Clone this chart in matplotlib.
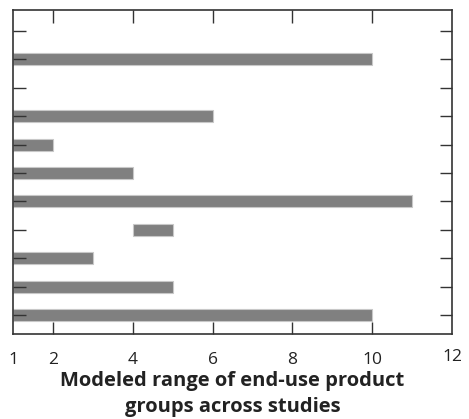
import matplotlib
matplotlib.use("Agg")
import matplotlib.pyplot as plt
import matplotlib.transforms as mtransforms

# Data: rows from bottom (0) to top (10); None = no bar
row_pos = [0, 1, 2, 3, 4, 5, 6, 7, 8, 9, 10]
range_start = [1, 1, 1, 4, 1, 1, 1, 1, None, 1, None]
range_end = [10, 5, 3, 5, 11, 4, 2, 6, None, 10, None]
x_ticks = [1, 2, 4, 6, 8, 10, 12]
x_tick_labels = ["1", "2", "4", "6", "8", "10", "12"]
x_label = "Modeled range of end-use product\ngroups across studies"

plt.rcParams['font.family'] = ['Open Sans', 'DejaVu Sans']

fig = plt.figure(figsize=(4.69, 4.19), dpi=100)
ax = fig.add_axes([13/469, 1 - 334/419, (452-13)/469, (334-10)/419])

for y, s, e in zip(row_pos, range_start, range_end):
    if s is None:
        continue
    ax.barh(y, e - s, left=s, height=0.42, color="#808080",
            edgecolor="#c8c8c8", linewidth=0.8)

ax.set_xlim(1, 12)
ax.set_ylim(-0.67, 10.74)
ax.set_xticks(x_ticks)
ax.set_xticklabels(x_tick_labels, fontsize=12.5, color="#222222")
ax.set_yticks(row_pos)
ax.set_yticklabels([])
ax.tick_params(axis="both", direction="in", length=9, width=1.0, color="#333333",
               top=True, right=True, pad=13)
# hide the tick marks at x=1 and x=12 (they coincide with spines)
for i, t in enumerate(ax.xaxis.get_major_ticks()):
    if x_ticks[i] in (1, 12):
        t.tick1line.set_visible(False)
        t.tick2line.set_visible(False)
# raise the "12" label slightly, as in the reference
lbls = ax.get_xticklabels()
lbls[-1].set_transform(lbls[-1].get_transform() +
                       mtransforms.ScaledTranslation(0, 3/100, fig.dpi_scale_trans))
for sp in ax.spines.values():
    sp.set_linewidth(1.2)
    sp.set_color("#333333")

ax.set_xlabel(x_label, fontsize=14.5, fontweight="bold", color="#222222",
              labelpad=2, linespacing=1.42)

fig.savefig("out.png", dpi=100)
